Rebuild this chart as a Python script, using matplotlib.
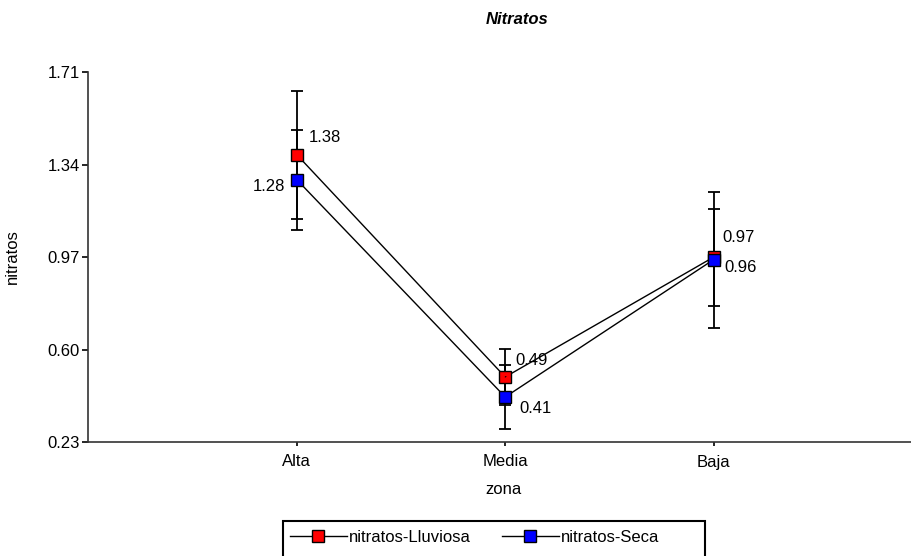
import matplotlib
matplotlib.use("Agg")
import matplotlib.pyplot as plt
from matplotlib.lines import Line2D
from matplotlib.patches import Rectangle

plt.rcParams['font.family'] = ['Liberation Sans', 'DejaVu Sans']

zones = ["Alta", "Media", "Baja"]
lluviosa = [1.38, 0.49, 0.97]
lluviosa_err = [0.256, 0.112, 0.194]
seca = [1.28, 0.41, 0.96]
seca_err = [0.20, 0.128, 0.272]
yticks = [0.23, 0.60, 0.97, 1.34, 1.71]
series_names = ['nitratos-Lluviosa', 'nitratos-Seca']
series_colors = ['#FF0000', '#0000FF']

fig = plt.figure(figsize=(9.12, 5.56), dpi=100)
ax = fig.add_axes([88/912, 114/556, 1 - 88/912, (442-72)/556])

x = [1, 2, 3]
fs = 12

for vals, errs, col in [(lluviosa, lluviosa_err, series_colors[0]),
                        (seca, seca_err, series_colors[1])]:
    ax.errorbar(x, vals, yerr=errs, fmt='none', ecolor='black', elinewidth=1.3,
                capsize=4.5, capthick=1.3, zorder=2)
    ax.plot(x, vals, color='black', lw=1.0, marker='s', markersize=8,
            markerfacecolor=col, markeredgecolor='black', markeredgewidth=1.0,
            zorder=3)

# data labels (offsets in points)
offs_l = [(20, 12), (19, 12), (18, 14)]
offs_s = [(-20, -5), (22, -8), (19, -6)]
for i in range(3):
    if i == 1:
        ax.annotate(f"{lluviosa[i]:.2f}", (x[i], lluviosa[i]), xytext=offs_l[i],
                    textcoords='offset points', ha='center', va='center', fontsize=fs,
                    arrowprops=dict(arrowstyle='-', color='black', lw=0.8, shrinkA=8, shrinkB=4))
    else:
        ax.annotate(f"{lluviosa[i]:.2f}", (x[i], lluviosa[i]), xytext=offs_l[i],
                    textcoords='offset points', ha='center', va='center', fontsize=fs)
    ax.annotate(f"{seca[i]:.2f}", (x[i], seca[i]), xytext=offs_s[i],
                textcoords='offset points', ha='center', va='center', fontsize=fs)

ax.set_xlim(0, 3.95)
ax.set_ylim(0.23, 1.71)
ax.set_xticks(x)
ax.set_xticklabels(zones, fontsize=fs)
ax.set_yticks(yticks)
ax.set_yticklabels([f"{v:.2f}" for v in yticks], fontsize=fs)
ax.tick_params(axis='y', direction='out', length=4, width=1.2, pad=2)
ax.tick_params(axis='x', direction='out', length=3, width=1.2, pad=6)
for s in ['top', 'right']:
    ax.spines[s].set_visible(False)
for s in ['left', 'bottom']:
    ax.spines[s].set_linewidth(1.2)
    ax.spines[s].set_color('#333333')

ax.set_xlabel("zona", fontsize=fs)
ax.xaxis.set_label_coords((503 - 88) / 824, -(482 - 442) / 370)
ax.set_ylabel("nitratos", fontsize=fs)
ax.yaxis.set_label_coords(-(88 - 20) / 824, (442 - 257) / 370)
fig.text(517/912, 1 - 20/556, "Nitratos", fontsize=12, fontweight='bold',
         fontstyle='italic', ha='center', va='center')

handles = [Line2D([], [], color='black', lw=1.0, marker='s', markersize=8,
                  markerfacecolor=c, markeredgecolor='black', markeredgewidth=1.0)
           for c in series_colors]
leg = fig.legend(handles, series_names, loc='center left',
                 bbox_to_anchor=(290/912, 1 - 537/556), ncol=2,
                 fontsize=fs, frameon=False, handlelength=3.4, columnspacing=1.85,
                 handletextpad=0.15, borderpad=0, borderaxespad=0)
fig.patches.append(Rectangle((283/912, -0.05), (705-283)/912, 0.05 + (556-521)/556,
                             transform=fig.transFigure, fill=False,
                             edgecolor='black', linewidth=1.5, clip_on=False))

fig.savefig("out.png", dpi=100)
